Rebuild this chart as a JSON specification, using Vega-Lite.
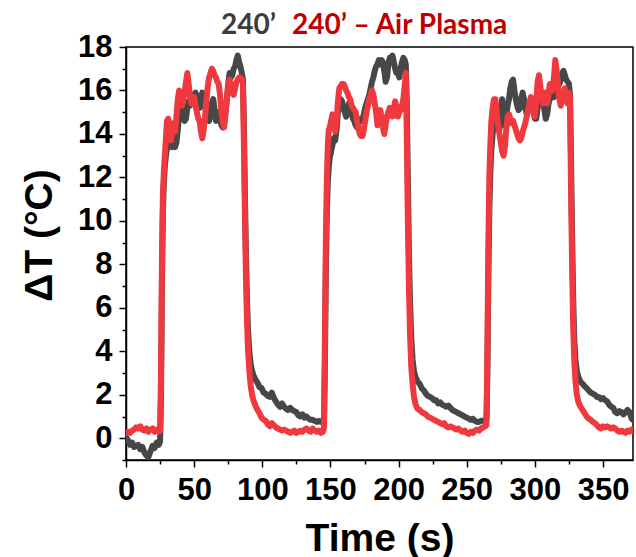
{
"$schema": "https://vega.github.io/schema/vega-lite/v6.json",
"width": 507, "height": 413,
"autosize": {"type": "none"},
"padding": {"left": 126, "top": 47, "right": 3, "bottom": 97},
"background": "white",
"config": {
  "view": {"stroke": "black", "strokeWidth": 1.5},
  "axis": {"grid": false, "domainColor": "black", "domainWidth": 1.5, "tickColor": "black", "tickWidth": 1.5,
    "labelFont": "Liberation Sans", "labelFontWeight": "bold", "labelFontSize": 31, "labelColor": "black",
    "titleFont": "Liberation Sans", "titleFontWeight": "bold", "titleFontSize": 39, "titleColor": "black",
    "labelOverlap": false, "labelFlush": false}
},
"data": {"values": [
{"t":0,"g":0.05,"r":0.25},{"t":1.5,"g":-0.1,"r":0.3},{"t":3,"g":-0.3,"r":0.25},{"t":4.5,"g":-0.2,"r":0.35},{"t":6,"g":-0.4,"r":0.4},{"t":7.5,"g":-0.35,"r":0.5},{"t":9,"g":-0.3,"r":0.45},{"t":10.5,"g":-0.5,"r":0.55},{"t":12,"g":-0.4,"r":0.4},{"t":13.5,"g":-0.65,"r":0.35},{"t":15,"g":-0.8,"r":0.45},{"t":16.5,"g":-0.85,"r":0.3},{"t":18,"g":-0.6,"r":0.4},{"t":19.5,"g":-0.35,"r":0.45},{"t":21,"g":-0.45,"r":0.3},{"t":22.5,"g":-0.2,"r":0.4},{"t":24,"g":-0.3,"r":0.3},{"t":25,"g":-0.15,"r":0.35},
{"t":25.7,"g":2,"r":3},{"t":26.4,"g":7,"r":8.5},{"t":27.1,"g":10.5,"r":11.3},{"t":27.8,"g":11.8,"r":12.3},{"t":28.5,"g":12.5,"r":13},{"t":29.3,"g":13,"r":13.8},{"t":30,"g":13.3,"r":14.6},{"t":31,"g":13.6,"r":14.7},{"t":32,"g":13.4,"r":14},{"t":33,"g":13.5,"r":13.7},{"t":34,"g":13.4,"r":14.2},{"t":35,"g":13.5,"r":14.5},{"t":36,"g":13.4,"r":14.1},{"t":37,"g":13.6,"r":14.8},{"t":38,"g":14.2,"r":15.6},{"t":39,"g":14.9,"r":16},{"t":40,"g":15,"r":15.7},{"t":41,"g":15.2,"r":15.3},{"t":42,"g":14.8,"r":15.6},{"t":43,"g":14.6,"r":15.9},{"t":44,"g":14.7,"r":16.4},{"t":45,"g":15.2,"r":16.8},{"t":46,"g":15.5,"r":16.3},{"t":47,"g":15.3,"r":15.7},{"t":48,"g":15.8,"r":15.4},{"t":49,"g":15.6,"r":15.6},{"t":50,"g":15.8,"r":15.7},{"t":51,"g":15.9,"r":15.3},{"t":52,"g":15.7,"r":15},{"t":53,"g":15.4,"r":14.7},{"t":54,"g":15.2,"r":14.6},{"t":55,"g":15.6,"r":14.1},{"t":56,"g":15.9,"r":13.8},{"t":57,"g":15.6,"r":14.2},{"t":58,"g":15.3,"r":14.8},{"t":59,"g":14.9,"r":15.5},{"t":60,"g":14.7,"r":16.2},{"t":61,"g":14.6,"r":16.6},{"t":62,"g":14.9,"r":16.8},{"t":63,"g":15.4,"r":17},{"t":64,"g":15.6,"r":16.9},{"t":65,"g":15.1,"r":16.7},{"t":66,"g":14.6,"r":16.6},{"t":67,"g":14.8,"r":16.4},{"t":68,"g":15,"r":16.3},{"t":69,"g":14.7,"r":15.8},{"t":70,"g":14.4,"r":15},{"t":71,"g":14.3,"r":14.6},{"t":72,"g":14.5,"r":14.3},{"t":73,"g":15,"r":14.9},{"t":74,"g":15.6,"r":15.6},{"t":75,"g":16.3,"r":16.2},{"t":76,"g":16.8,"r":16.5},{"t":77,"g":16.6,"r":16.2},{"t":78,"g":16.7,"r":15.9},{"t":79,"g":17,"r":15.8},{"t":80,"g":17.1,"r":16.1},{"t":81,"g":17.4,"r":16.4},{"t":82,"g":17.6,"r":16.5},{"t":83,"g":17.3,"r":16.6},{"t":84,"g":17.1,"r":16.6},{"t":85,"g":16.8,"r":16.5},{"t":85.8,"g":16.5,"r":16.3},
{"t":86.5,"g":14.5,"r":13.5},{"t":87.2,"g":11.5,"r":10.5},{"t":88,"g":8.5,"r":7.5},{"t":88.8,"g":6.3,"r":5.3},{"t":89.6,"g":4.9,"r":4},{"t":90.5,"g":4,"r":3.1},{"t":91.5,"g":3.4,"r":2.4},{"t":92.5,"g":3.1,"r":2},{"t":93.5,"g":2.9,"r":1.75},{"t":95,"g":2.7,"r":1.5},{"t":96.5,"g":2.55,"r":1.3},{"t":98,"g":2.35,"r":1.15},{"t":99.5,"g":2.3,"r":0.95},{"t":101,"g":2.1,"r":0.85},{"t":102.5,"g":2.05,"r":0.8},{"t":104,"g":1.95,"r":0.65},{"t":105.5,"g":1.9,"r":0.55},{"t":107,"g":2.1,"r":0.7},{"t":108.5,"g":1.85,"r":0.6},{"t":110,"g":1.7,"r":0.5},{"t":111.5,"g":1.55,"r":0.45},{"t":113,"g":1.45,"r":0.4},{"t":114.5,"g":1.6,"r":0.35},{"t":116,"g":1.45,"r":0.4},{"t":117.5,"g":1.35,"r":0.35},{"t":119,"g":1.3,"r":0.3},{"t":120.5,"g":1.4,"r":0.25},{"t":122,"g":1.3,"r":0.3},{"t":123.5,"g":1.25,"r":0.35},{"t":125,"g":1.2,"r":0.25},{"t":126.5,"g":1.05,"r":0.3},{"t":128,"g":1,"r":0.35},{"t":129.5,"g":1.1,"r":0.3},{"t":131,"g":0.95,"r":0.4},{"t":132.5,"g":1,"r":0.45},{"t":134,"g":0.9,"r":0.35},{"t":135.5,"g":0.85,"r":0.3},{"t":137,"g":0.85,"r":0.45},{"t":138.5,"g":0.8,"r":0.35},{"t":140,"g":0.75,"r":0.3},{"t":141.5,"g":0.8,"r":0.35},{"t":143,"g":0.75,"r":0.25},{"t":144.5,"g":0.8,"r":0.3},{"t":145.3,"g":0.9,"r":0.5},
{"t":146,"g":3.5,"r":5},{"t":146.7,"g":8,"r":9.5},{"t":147.4,"g":10.5,"r":12},{"t":148.1,"g":11.8,"r":13.5},{"t":148.8,"g":12.5,"r":14.2},{"t":149.5,"g":12.9,"r":14.3},{"t":150.5,"g":13.2,"r":14.6},{"t":151.5,"g":13.5,"r":14.9},{"t":152.5,"g":13.8,"r":14.5},{"t":153.5,"g":13.7,"r":14.1},{"t":154.5,"g":14.2,"r":14.6},{"t":155.5,"g":15,"r":15.5},{"t":156.5,"g":15.3,"r":16.1},{"t":157.5,"g":15.6,"r":16.2},{"t":158.5,"g":15.5,"r":16.3},{"t":159.5,"g":15.2,"r":16.3},{"t":160.5,"g":15,"r":16.2},{"t":161.5,"g":14.8,"r":16},{"t":162.5,"g":15,"r":15.9},{"t":163.5,"g":15.4,"r":15.7},{"t":164.5,"g":15.3,"r":15.6},{"t":165.5,"g":15,"r":15.3},{"t":166.5,"g":14.7,"r":15.2},{"t":167.5,"g":14.6,"r":15.1},{"t":168.5,"g":14.4,"r":15},{"t":169.5,"g":14.3,"r":14.6},{"t":170.5,"g":14.5,"r":14.3},{"t":171.5,"g":14.6,"r":14},{"t":172.5,"g":14.7,"r":13.9},{"t":173.5,"g":14.6,"r":13.9},{"t":174.5,"g":14.9,"r":14.2},{"t":175.5,"g":15.2,"r":14.6},{"t":176.5,"g":15.4,"r":15},{"t":177.5,"g":15.6,"r":15.3},{"t":178.5,"g":15.8,"r":15.6},{"t":179.5,"g":16.1,"r":15.8},{"t":180.5,"g":16.4,"r":16},{"t":181.5,"g":16.6,"r":15.8},{"t":182.5,"g":16.9,"r":15.4},{"t":183.5,"g":17.1,"r":15},{"t":184.5,"g":17.2,"r":14.4},{"t":185.5,"g":17.4,"r":14.6},{"t":186.5,"g":17.2,"r":15.1},{"t":187.5,"g":17.4,"r":14.8},{"t":188.5,"g":17.3,"r":14.3},{"t":189.5,"g":16.9,"r":14},{"t":190.5,"g":16.4,"r":14.4},{"t":191.5,"g":16.6,"r":14.8},{"t":192.5,"g":17.2,"r":15},{"t":193.5,"g":17.5,"r":15.2},{"t":194.5,"g":17.4,"r":15.1},{"t":195.5,"g":17.6,"r":14.8},{"t":196.5,"g":17.3,"r":15.2},{"t":197.5,"g":17,"r":15.5},{"t":198.5,"g":16.8,"r":15.2},{"t":199.5,"g":16.8,"r":14.8},{"t":200.5,"g":16.6,"r":15},{"t":201.5,"g":17,"r":15.1},{"t":202.5,"g":17.3,"r":15.3},{"t":203.5,"g":17.5,"r":15.6},{"t":204.5,"g":17.4,"r":16.2},{"t":205.3,"g":17.2,"r":16.8},
{"t":206,"g":15.5,"r":14},{"t":206.8,"g":12,"r":10},{"t":207.6,"g":8.5,"r":7},{"t":208.4,"g":6.3,"r":4.8},{"t":209.3,"g":4.6,"r":3.3},{"t":210.3,"g":3.6,"r":2.5},{"t":211.3,"g":3.1,"r":1.9},{"t":212.5,"g":2.8,"r":1.55},{"t":214,"g":2.6,"r":1.35},{"t":215.5,"g":2.5,"r":1.3},{"t":217,"g":2.3,"r":1.2},{"t":218.5,"g":2.2,"r":1.15},{"t":220,"g":2.05,"r":1.1},{"t":221.5,"g":1.95,"r":1},{"t":223,"g":1.9,"r":0.95},{"t":224.5,"g":1.85,"r":0.9},{"t":226,"g":1.75,"r":0.85},{"t":227.5,"g":1.75,"r":0.8},{"t":229,"g":1.6,"r":0.75},{"t":230.5,"g":1.65,"r":0.7},{"t":232,"g":1.55,"r":0.65},{"t":233.5,"g":1.5,"r":0.7},{"t":235,"g":1.45,"r":0.55},{"t":236.5,"g":1.5,"r":0.5},{"t":238,"g":1.4,"r":0.55},{"t":239.5,"g":1.3,"r":0.5},{"t":241,"g":1.25,"r":0.45},{"t":242.5,"g":1.2,"r":0.4},{"t":244,"g":1.15,"r":0.45},{"t":245.5,"g":1.1,"r":0.35},{"t":247,"g":1.05,"r":0.3},{"t":248.5,"g":1,"r":0.35},{"t":250,"g":0.95,"r":0.25},{"t":251.5,"g":0.9,"r":0.2},{"t":253,"g":0.85,"r":0.3},{"t":254.5,"g":0.9,"r":0.25},{"t":256,"g":0.8,"r":0.35},{"t":257.5,"g":0.75,"r":0.4},{"t":259,"g":0.75,"r":0.35},{"t":260.5,"g":0.8,"r":0.45},{"t":262,"g":0.8,"r":0.5},{"t":263.5,"g":0.85,"r":0.55},{"t":264.5,"g":0.9,"r":0.6},
{"t":265.2,"g":3,"r":4.5},{"t":265.9,"g":7.5,"r":9},{"t":266.6,"g":10.5,"r":12},{"t":267.3,"g":12.2,"r":13.5},{"t":268,"g":13.2,"r":14.5},{"t":269,"g":14,"r":15.2},{"t":270,"g":14.6,"r":15.6},{"t":271,"g":15,"r":15.6},{"t":272,"g":15.2,"r":15},{"t":273,"g":14.8,"r":14.4},{"t":274,"g":14.2,"r":14},{"t":275,"g":14.8,"r":13.6},{"t":276,"g":15.6,"r":13.2},{"t":277,"g":15,"r":13},{"t":278,"g":14.4,"r":13.4},{"t":279,"g":14.8,"r":14.2},{"t":280,"g":15.3,"r":14.8},{"t":281,"g":15.6,"r":14.9},{"t":282,"g":16.1,"r":14.7},{"t":283,"g":16.4,"r":14.5},{"t":284,"g":16.5,"r":14.6},{"t":285,"g":16,"r":14.4},{"t":286,"g":15.6,"r":14.2},{"t":287,"g":15.3,"r":14},{"t":288,"g":15.1,"r":13.8},{"t":289,"g":15.2,"r":13.7},{"t":290,"g":15.6,"r":13.8},{"t":291,"g":15.9,"r":14.1},{"t":292,"g":15.6,"r":14.3},{"t":293,"g":15.2,"r":14.5},{"t":294,"g":14.9,"r":14.8},{"t":295,"g":15.1,"r":15.1},{"t":296,"g":15.3,"r":15.4},{"t":297,"g":15.5,"r":15.7},{"t":298,"g":15.4,"r":15.6},{"t":299,"g":15,"r":15},{"t":300,"g":14.7,"r":14.8},{"t":301,"g":14.7,"r":15.5},{"t":302,"g":15.2,"r":16.4},{"t":303,"g":15.7,"r":16.7},{"t":304,"g":16,"r":16.2},{"t":305,"g":15.9,"r":15.6},{"t":306,"g":15.5,"r":15.4},{"t":307,"g":15.1,"r":15.6},{"t":308,"g":14.7,"r":15.9},{"t":309,"g":14.9,"r":15.4},{"t":310,"g":15.4,"r":15.8},{"t":311,"g":15.6,"r":16.3},{"t":312,"g":15.9,"r":16.1},{"t":313,"g":15.8,"r":16},{"t":314,"g":15.7,"r":16.6},{"t":315,"g":15.9,"r":17.4},{"t":316,"g":16,"r":16.9},{"t":317,"g":16.2,"r":16.2},{"t":318,"g":16.3,"r":15.6},{"t":319,"g":16.5,"r":15.3},{"t":320,"g":16.8,"r":15.6},{"t":321,"g":16.9,"r":15.9},{"t":322,"g":16.7,"r":16.1},{"t":323,"g":16.5,"r":15.8},{"t":324,"g":16.4,"r":15.4},{"t":325,"g":16.3,"r":15.9},{"t":325.8,"g":15.8,"r":15.6},
{"t":326.5,"g":13,"r":11.5},{"t":327.3,"g":9.5,"r":8},{"t":328.1,"g":6.5,"r":5.2},{"t":328.9,"g":4.6,"r":3.6},{"t":329.8,"g":3.6,"r":2.6},{"t":330.8,"g":3.1,"r":2},{"t":332,"g":2.8,"r":1.65},{"t":333.5,"g":2.6,"r":1.45},{"t":335,"g":2.5,"r":1.3},{"t":336.5,"g":2.4,"r":1.15},{"t":338,"g":2.3,"r":1},{"t":339.5,"g":2.2,"r":0.9},{"t":341,"g":2.1,"r":0.85},{"t":342.5,"g":2.05,"r":0.75},{"t":344,"g":2,"r":0.7},{"t":345.5,"g":1.9,"r":0.6},{"t":347,"g":1.9,"r":0.5},{"t":348.5,"g":1.8,"r":0.45},{"t":350,"g":1.85,"r":0.55},{"t":351.5,"g":1.75,"r":0.5},{"t":353,"g":1.7,"r":0.55},{"t":354.5,"g":1.55,"r":0.5},{"t":356,"g":1.45,"r":0.45},{"t":357.5,"g":1.4,"r":0.5},{"t":359,"g":1.2,"r":0.45},{"t":360.5,"g":1.15,"r":0.35},{"t":362,"g":1.25,"r":0.3},{"t":363.5,"g":1.2,"r":0.35},{"t":365,"g":1.1,"r":0.3},{"t":366.5,"g":1.2,"r":0.25},{"t":368,"g":1.3,"r":0.35},{"t":369.5,"g":1.2,"r":0.3},{"t":371,"g":0.9,"r":0.4},{"t":372,"g":0.85,"r":0.35}
]},
"transform": [{"fold": ["g", "r"], "as": ["s", "v"]}],
"mark": {"type": "line", "strokeWidth": 6, "strokeJoin": "round", "strokeCap": "round", "clip": true},
"encoding": {
  "x": {"field": "t", "type": "quantitative", "title": "Time (s)",
    "scale": {"domain": [0, 372], "nice": false, "zero": false},
    "axis": {"values": [0,25,50,75,100,125,150,175,200,225,250,275,300,325,350],
      "labelExpr": "datum.value % 50 == 0 ? datum.label : ''",
      "tickSize": {"condition": {"test": "datum.value % 50 == 0", "value": 7}, "value": 4},
      "labelPadding": 8, "titlePadding": 14}},
  "y": {"field": "v", "type": "quantitative", "title": "ΔT (°C)",
    "scale": {"domain": [-1, 18], "nice": false, "zero": false},
    "axis": {"values": [-1,0,1,2,3,4,5,6,7,8,9,10,11,12,13,14,15,16,17,18],
      "labelExpr": "datum.value % 2 == 0 ? datum.label : ''",
      "tickSize": {"condition": {"test": "datum.value % 2 == 0", "value": 7}, "value": 4},
      "labelPadding": 7, "titlePadding": 18, "titleY": 188}},
  "color": {"field": "s", "type": "nominal",
    "scale": {"domain": ["g", "r"], "range": ["#474747", "#f0393f"]},
    "legend": {"orient": "none", "legendX": 67, "legendY": -35, "direction": "horizontal", "title": null,
      "gridAlign": "none",
      "labelExpr": "datum.value == 'g' ? '240’' : '240’ – Air Plasma'",
      "symbolSize": 0, "symbolOpacity": 0, "symbolStrokeWidth": 0, "labelOffset": 0, "columnPadding": -12,
      "labelFont": "Lato", "labelFontWeight": "bold", "labelFontSize": 28, "labelLimit": 400,
      "encode": {"labels": {"update": {"fill": {"signal": "datum.value == 'g' ? '#3c3c3c' : '#c00000'"}}}}}}
}
}
